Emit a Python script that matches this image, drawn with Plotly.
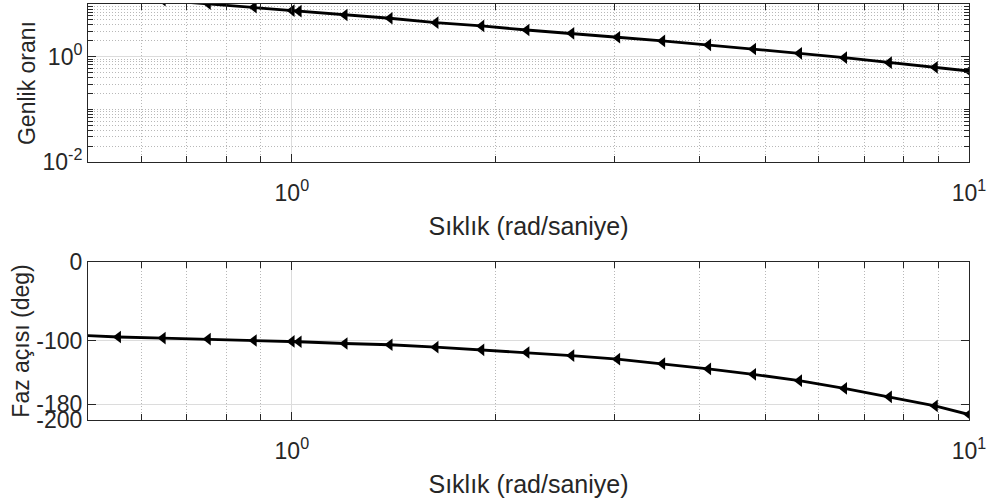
import plotly.graph_objects as go
from plotly.subplots import make_subplots

# ---- data ----
freq = [0.4745, 0.554, 0.645, 0.752, 0.879, 1.0, 1.024, 1.197, 1.395, 1.631, 1.906,
        2.222, 2.588, 3.025, 3.525, 4.121, 4.802, 5.614, 6.543, 7.621, 8.909, 10.0]
magnitude = [16.0, 13.7, 11.8, 10.2, 8.67, 7.50, 7.31, 6.19, 5.36, 4.42, 3.83,
             3.21, 2.78, 2.34, 1.99, 1.67, 1.40, 1.16, 0.957, 0.769, 0.629, 0.535]
phase = [-92.5, -95.0, -96.3, -97.6, -99.4, -100.6, -101.0, -103.2, -104.8, -107.8, -111.2,
         -114.6, -118.5, -123.1, -128.8, -135.4, -142.2, -150.3, -160.0, -170.7, -182.2, -193.1]

x_major = [1, 10]
x_major_text = ["10<sup>0</sup>", "10<sup>1</sup>"]
x_minor = [0.6, 0.7, 0.8, 0.9, 2, 3, 4, 5, 6, 7, 8, 9]
mag_major = [0.01, 1]
mag_major_text = ["10<sup>-2</sup>", "10<sup>0</sup>"]
mag_minor = [0.02, 0.03, 0.04, 0.05, 0.06, 0.07, 0.08, 0.09, 0.1,
             0.2, 0.3, 0.4, 0.5, 0.6, 0.7, 0.8, 0.9, 2, 3, 4, 5, 6, 7, 8, 9]
phase_ticks = [-200, -180, -100, 0]
phase_text = ["-200", "-180", "-100", "0"]

x_title = "Sıklık (rad/saniye)"
mag_title = "Genlik oranı"
phase_title = "Faz açısı (deg)"

# ---- styles ----
FONT = "Liberation Sans, Arial, sans-serif"
AX = "#262626"
GRID = "#dcdcdc"
MINOR_GRID = "#b8b8b8"
TICK_FS = 23
XTITLE_FS = 25
YTITLE_FS = 23
DOT = "1px,2px"

fig = make_subplots(rows=2, cols=1)

line_style = dict(color="black", width=2.8)
marker_style = dict(symbol="triangle-left", size=11, color="black")

fig.add_trace(go.Scatter(x=freq, y=magnitude, mode="lines+markers",
                         line=line_style, marker=marker_style, showlegend=False,
                         cliponaxis=True), row=1, col=1)
fig.add_trace(go.Scatter(x=freq, y=phase, mode="lines+markers",
                         line=line_style, marker=marker_style, showlegend=False,
                         cliponaxis=True), row=2, col=1)

common_x = dict(
    type="log", range=[-0.30103, 1.0], automargin=False,
    tickmode="array", tickvals=x_major, ticktext=x_major_text,
    ticks="inside", ticklen=8, tickcolor=AX, tickwidth=1,
    showline=True, linecolor=AX, linewidth=1, mirror="allticks",
    showgrid=True, gridcolor=GRID, gridwidth=1,
    zeroline=False, ticklabelstandoff=10,
    tickfont=dict(family=FONT, size=TICK_FS, color=AX),
    title=dict(text=x_title, font=dict(family=FONT, size=XTITLE_FS, color=AX), standoff=12),
    minor=dict(tickmode="array", tickvals=x_minor, ticks="inside", ticklen=6,
               tickcolor=AX, showgrid=True, gridcolor=MINOR_GRID, griddash=DOT, gridwidth=1),
)

fig.update_xaxes(**common_x, domain=[0, 1], row=1, col=1)
fig.update_xaxes(**common_x, domain=[0, 1], row=2, col=1)

fig.update_yaxes(
    type="log", range=[-2, 1], domain=[0.620, 1.0], automargin=False,
    tickmode="array", tickvals=mag_major, ticktext=mag_major_text,
    ticks="inside", ticklen=8, tickcolor=AX,
    showline=True, linecolor=AX, linewidth=1, mirror="allticks",
    showgrid=True, gridcolor=GRID, zeroline=False,
    tickfont=dict(family=FONT, size=TICK_FS, color=AX),
    title=dict(text=mag_title, font=dict(family=FONT, size=YTITLE_FS, color=AX), standoff=0),
    minor=dict(tickmode="array", tickvals=mag_minor, ticks="inside", ticklen=5,
               tickcolor=AX, showgrid=True, gridcolor=MINOR_GRID, griddash=DOT, gridwidth=1),
    row=1, col=1)

fig.update_yaxes(
    range=[-200, 0], domain=[0.0, 0.380], automargin=False,
    tickmode="array", tickvals=phase_ticks, ticktext=phase_text,
    ticks="inside", ticklen=8, tickcolor=AX,
    showline=True, linecolor=AX, linewidth=1, mirror="allticks",
    showgrid=True, gridcolor=GRID, zeroline=False,
    tickfont=dict(family=FONT, size=TICK_FS, color=AX),
    title=dict(text=phase_title, font=dict(family=FONT, size=YTITLE_FS, color=AX), standoff=0),
    row=2, col=1)

fig.update_layout(
    width=995, height=502,
    margin=dict(l=88, r=26, t=4, b=82, autoexpand=False),
    paper_bgcolor="white", plot_bgcolor="white",
    font=dict(family=FONT, color=AX),
)

fig.write_html("out.html", config={"displayModeBar": False},
               post_script="document.body.style.margin='0';")
